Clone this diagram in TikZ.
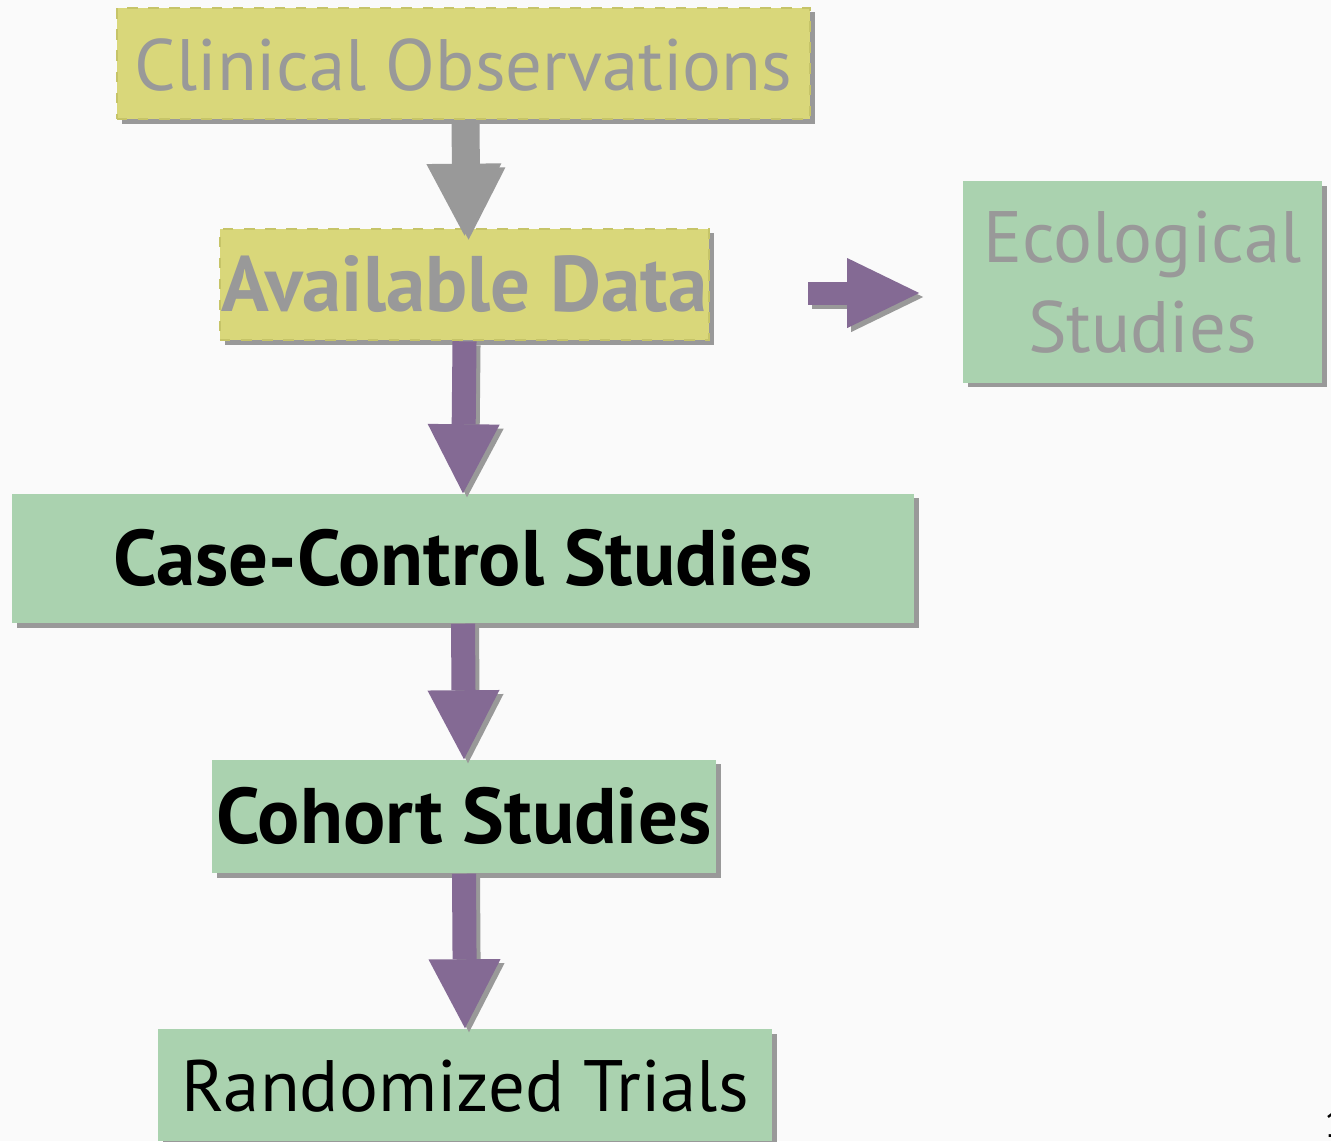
\documentclass[tikz,border=0pt]{standalone}
\usepackage{fontspec}
\setmainfont{PT Sans}
\usetikzlibrary{arrows.meta,shadows}
\definecolor{obsyellow}{HTML}{D9D77A}
\definecolor{obsedge}{HTML}{C6C468}
\definecolor{studygreen}{HTML}{AAD2AF}
\definecolor{flowpurple}{HTML}{846A94}
\definecolor{labelgray}{HTML}{999999}
\definecolor{pagebg}{HTML}{FAFAFA}
\tikzset{
  boxshadow/.style={drop shadow={shadow xshift=0.5mm,shadow yshift=-0.45mm,fill=labelgray,opacity=1}},
  plainfont/.style={font=\fontsize{20.7pt}{25.6pt}\selectfont},
  boldfont/.style={font=\fontsize{22.4pt}{25.6pt}\selectfont\bfseries},
  obsbox/.style={rectangle, inner sep=0pt, fill=obsyellow, draw=obsedge, dashed, line width=0.25mm, boxshadow, text=labelgray, text height=5.3mm, text depth=0pt},
  studybox/.style={rectangle, inner sep=0pt, fill=studygreen, boxshadow, text height=5.3mm, text depth=0pt},
  flow/.style={line width=2.4mm, -{Triangle[width=7.2mm,length=6.9mm,line width=0pt]}},
}
\begin{document}
\begin{tikzpicture}[x=0.01cm, y=-0.01cm]
\fill[pagebg] (0,0) rectangle (1331,1141);
\useasboundingbox (0,0) rectangle (1331,1141);
% boxes
\node[obsbox, plainfont, minimum width=69.3mm, minimum height=11.1mm] (clinical) at (463.5,63.5) {Clinical Observations};
\node[obsbox, boldfont, minimum width=48.9mm, minimum height=11.1mm] (avail) at (464.5,284.5) {Available Data};
\node[studybox, plainfont, minimum width=35.9mm, minimum height=20.1mm, text=labelgray, align=center, text height=, text depth=] (eco) at (1142.5,282) {Ecological\\Studies};
\node[studybox, boldfont, minimum width=90.2mm, minimum height=12.9mm] (casectl) at (463,558.5) {Case-Control Studies};
\node[studybox, boldfont, minimum width=50.4mm, minimum height=11.3mm] (cohort) at (464,816.5) {Cohort Studies};
\node[studybox, plainfont, minimum width=61.4mm, minimum height=11.2mm] (rand) at (465,1085) {Randomized Trials};
\node[anchor=base west, inner sep=0pt, font=\fontsize{11pt}{13pt}\selectfont] (slide) at (1324,1137) {1};
% arrow shadows
\begin{scope}[transform canvas={xshift=0.4mm,yshift=-0.4mm}, labelgray]
\draw[flow, -{Triangle[width=7.5mm,length=7.2mm,line width=0pt]}, shorten >=-0.8mm] (clinical.south) -- (avail.north);
\foreach \a/\b in {avail/casectl, casectl/cohort, cohort/rand}
  \draw[flow] (\a.south) -- (\b.north);
\draw[line width=2.3mm, -{Triangle[width=7mm,length=7.2mm,line width=0pt]}, shorten <=9.8mm, shorten >=4.3mm]
  ([yshift=-0.85mm]avail.east) -- ([yshift=-0.85mm]avail.east -| eco.west);
\end{scope}
% arrows
\draw[flow, labelgray, -{Triangle[width=7.5mm,length=7.2mm,line width=0pt]}, shorten >=-0.8mm] (clinical.south) -- (avail.north);
\foreach \a/\b in {avail/casectl, casectl/cohort, cohort/rand}
  \draw[flow, flowpurple] (\a.south) -- (\b.north);
\draw[flowpurple, line width=2.3mm, -{Triangle[width=7mm,length=7.2mm,line width=0pt]}, shorten <=9.8mm, shorten >=4.3mm]
  ([yshift=-0.85mm]avail.east) -- ([yshift=-0.85mm]avail.east -| eco.west);
\end{tikzpicture}
\end{document}
